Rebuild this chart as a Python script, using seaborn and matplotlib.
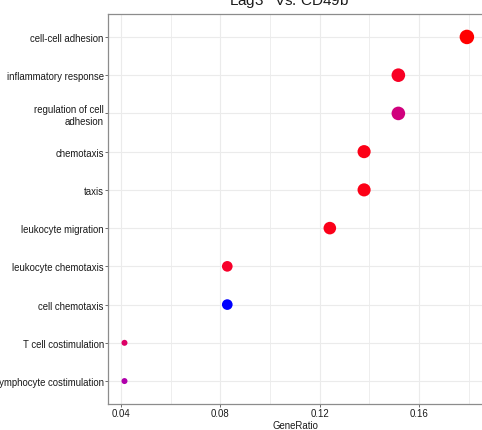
import numpy as np
import pandas as pd
import matplotlib
matplotlib.use("Agg")
import matplotlib.pyplot as plt
import seaborn as sns
from matplotlib.colors import ListedColormap

# GO enrichment results (top to bottom)
terms = [
    "cell-cell adhesion",
    "inflammatory response",
    "regulation of cell\nadhesion",
    "chemotaxis",
    "taxis",
    "leukocyte migration",
    "leukocyte chemotaxis",
    "cell chemotaxis",
    "T cell costimulation",
    "lymphocyte costimulation",
]
gene_counts = [13, 11, 11, 10, 10, 9, 6, 6, 3, 3]
gene_ratio = [0.1793, 0.1517, 0.1517, 0.1379, 0.1379, 0.1241, 0.0828, 0.0828, 0.0414, 0.0414]
p_adjust = [0.0020, 0.0050, 0.0191, 0.0035, 0.0035, 0.0039, 0.0058, 0.0400, 0.0153, 0.0267]
title = "Lag3$^{+}$ Vs. CD49b$^{+}$"

df = pd.DataFrame({
    "Description": terms,
    "Count": gene_counts,
    "GeneRatio": gene_ratio,
    "p.adjust": p_adjust,
})

_M = np.array([[0.4124, 0.3576, 0.1805],
               [0.2126, 0.7152, 0.0722],
               [0.0193, 0.1192, 0.9505]])
_WHITE = np.array([0.95047, 1.0, 1.08883])


# red -> blue gradient interpolated in CIE Lab space
def _srgb_to_lab(rgb):
    c = np.asarray(rgb, float)
    lin = np.where(c <= 0.04045, c / 12.92, ((c + 0.055) / 1.055) ** 2.4)
    t = (_M @ lin) / _WHITE
    f = np.where(t > 0.008856, np.cbrt(t), 7.787 * t + 16 / 116)
    return np.array([116 * f[1] - 16, 500 * (f[0] - f[1]), 200 * (f[1] - f[2])])


def _lab_to_srgb(lab):
    L, a, b = lab
    fy = (L + 16) / 116
    f = np.array([fy + a / 500, fy, fy - b / 200])
    t = np.where(f > 0.2069, f ** 3, (f - 16 / 116) / 7.787)
    lin = np.clip(np.linalg.solve(_M, t * _WHITE), 0, 1)
    c = np.where(lin <= 0.0031308, 12.92 * lin, 1.055 * lin ** (1 / 2.4) - 0.055)
    return np.clip(c, 0, 1)


lab_lo = _srgb_to_lab([1, 0, 0])
lab_hi = _srgb_to_lab([0, 0, 1])
grad = [_lab_to_srgb(lab_lo + (lab_hi - lab_lo) * s) for s in np.linspace(0, 1, 256)]
cmap = ListedColormap(grad)

# point area grows with gene count (diameter in px -> area in pt^2)
cmin, cmax = min(gene_counts), max(gene_counts)
size_map = {}
for c in sorted(set(gene_counts)):
    d_px = 6 + 8.5 * np.sqrt((c - cmin) / (cmax - cmin))
    size_map[c] = (d_px * 72 / 100) ** 2

sns.set_theme(style="white")
plt.rcParams["font.family"] = ["Liberation Sans", "DejaVu Sans"]
plt.rcParams["mathtext.fontset"] = "custom"
plt.rcParams["mathtext.rm"] = "Liberation Sans"

W, H = 482, 431
fig = plt.figure(figsize=(W / 100, H / 100), dpi=100)
ax = fig.add_axes([108 / W, 26 / H, 1 - 108 / W, 390 / H])

sns.scatterplot(
    data=df, x="GeneRatio", y="Description",
    hue="p.adjust", palette=cmap, hue_norm=(min(p_adjust), max(p_adjust)),
    size="Count", sizes=size_map,
    legend=False, edgecolor="none", linewidth=0, ax=ax, zorder=3,
)

ax.set_xlim(0.03476, 0.18539)
ax.set_ylim(len(terms) - 0.4, -0.6)
ax.set_xticks([0.04, 0.08, 0.12, 0.16])
ax.set_xticklabels(["0.04", "0.08", "0.12", "0.16"])
ax.set_xticks([0.06, 0.10, 0.14, 0.18], minor=True)

ax.grid(which="major", color="#ebebeb", linewidth=0.8)
ax.grid(which="minor", axis="x", color="#ebebeb", linewidth=0.6)
ax.set_axisbelow(True)

for side in ("left", "top", "bottom"):
    ax.spines[side].set_color("#8c8c8c")
    ax.spines[side].set_linewidth(0.9)
ax.spines["right"].set_visible(False)

ax.tick_params(which="major", direction="out", length=2, width=0.6,
               color="#555555", labelsize=6.9, labelcolor="#1a1a1a", pad=1,
               left=True, bottom=True)
ax.tick_params(which="minor", length=0)

ax.set_xlabel("GeneRatio", fontsize=6.9, color="#1a1a1a", labelpad=1)
ax.set_ylabel("")

fig.text(292 / W, 1 - 6 / H, title, ha="center", va="baseline",
         fontsize=11, color="#1a1a1a")

fig.savefig("out.png", dpi=100)
